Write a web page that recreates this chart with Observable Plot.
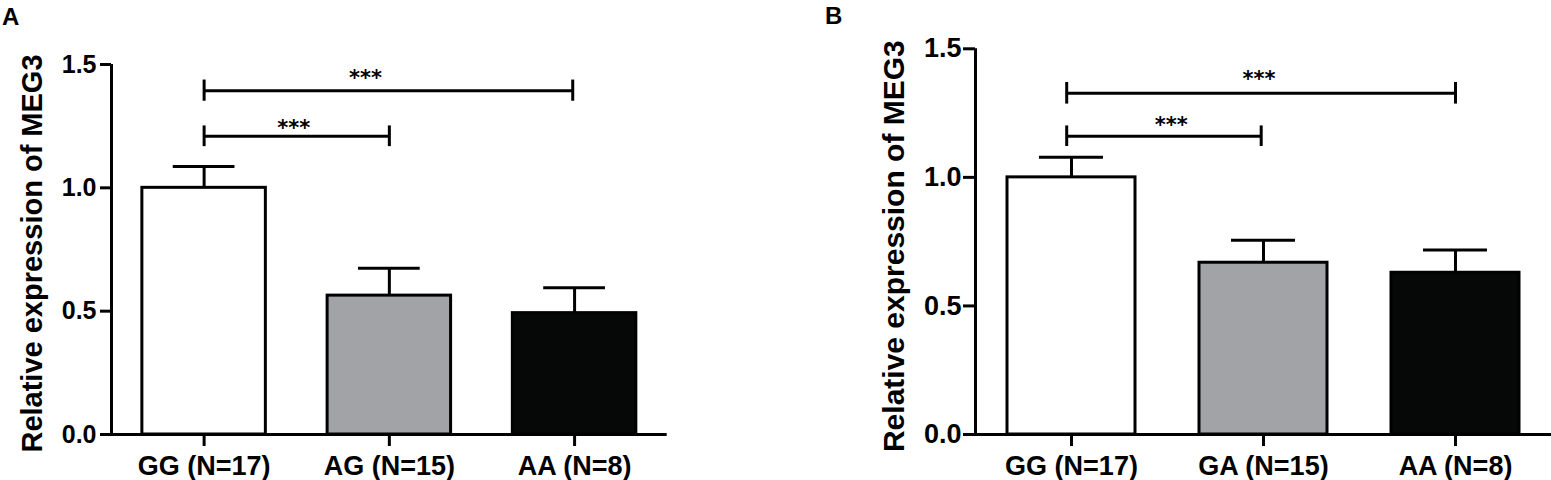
<!DOCTYPE html>
<html>
<head>
<meta charset="utf-8">
<script src="https://cdn.jsdelivr.net/npm/d3@7"></script>
<script src="https://cdn.jsdelivr.net/npm/@observablehq/plot@0.6"></script>
<style>
  html, body { margin: 0; padding: 0; background: #fff; }
  #wrap { position: relative; width: 1551px; height: 480px; overflow: hidden; }
  .panel { position: absolute; top: 0; }
  .tag { position: absolute; font-family: "Liberation Sans", Arial, sans-serif; font-weight: bold; font-size: 24px; line-height: 24px; color: #000; }
</style>
</head>
<body>
<div id="wrap">
  <div class="tag" style="left:2px; top:5px;">A</div>
  <div class="tag" style="left:825px; top:4px;">B</div>
  <div id="panelA" class="panel" style="left:0px;"></div>
  <div id="panelB" class="panel" style="left:800px;"></div>
</div>
<script>
// ---------- data ----------
const yLabel = "Relative expression of MEG3";
const yTicks = [0, 0.5, 1.0, 1.5];
const fills = ["#ffffff", "#a2a3a7", "#060808"];

const categoriesA = ["GG (N=17)", "AG (N=15)", "AA (N=8)"];
const meansA = [1.0, 0.563, 0.492];
const semA = [0.086, 0.111, 0.103];
const sigLabelsA = ["***", "***"];
const sigFromA = [0, 0];
const sigToA = [1.0, 1.99];
const sigLevelA = [1.209, 1.394];
const sigTickA = [0.042, 0.043];
const sigTextXA = [0.484, 0.871];
const sigTextYA = [1.261, 1.465];

const categoriesB = ["GG (N=17)", "GA (N=15)", "AA (N=8)"];
const meansB = [1.0, 0.668, 0.629];
const semB = [0.078, 0.087, 0.089];
const sigLabelsB = ["***", "***"];
const sigFromB = [-0.025, -0.025];
const sigToB = [0.988, 2.0];
const sigLevelB = [1.160, 1.327];
const sigTickB = [0.040, 0.042];
const sigTextXB = [0.519, 0.977];
const sigTextYB = [1.221, 1.400];

function panel(cfg) {
  const bars = cfg.categories.map((c, i) => ({
    i, label: c, mean: cfg.means[i], top: cfg.means[i] + cfg.sem[i], fill: fills[i]
  }));
  const sig = cfg.sigLabels.map((s, k) => ({
    text: s, x1: cfg.sigFrom[k], x2: cfg.sigTo[k], y: cfg.sigLevel[k],
    h: cfg.sigTick[k], tx: cfg.sigTextX[k], ty: cfg.sigTextY[k]
  }));
  const ends = sig.flatMap(d => [{x: d.x1, y1: d.y - d.h, y2: d.y + d.h}, {x: d.x2, y1: d.y - d.h, y2: d.y + d.h}]);
  const half = 1 / 3, cap = 1 / 6;
  return Plot.plot({
    width: cfg.width, height: 480,
    marginLeft: cfg.marginLeft, marginRight: cfg.marginRight,
    marginTop: cfg.marginTop, marginBottom: 46,
    style: {fontFamily: "'Liberation Sans', Arial, sans-serif", fontWeight: "bold", color: "#000", background: "transparent", overflow: "visible"},
    x: {domain: [-0.5, 2.5]},
    y: {domain: [0, 1.5]},
    marks: [
      // error bars (upper only)
      Plot.ruleX(bars, {x: "i", y1: "mean", y2: "top", stroke: "#000", strokeWidth: 3}),
      Plot.ruleY(bars, {y: "top", x1: d => d.i - cap, x2: d => d.i + cap, stroke: "#000", strokeWidth: 3}),
      // bars
      Plot.rectY(bars, {x1: d => d.i - half, x2: d => d.i + half, y1: 0, y2: "mean", fill: "fill", stroke: "#000", strokeWidth: 3}),
      // significance brackets
      Plot.ruleY(sig, {y: "y", x1: "x1", x2: "x2", stroke: "#000", strokeWidth: 3}),
      Plot.ruleX(ends, {x: "x", y1: "y1", y2: "y2", stroke: "#000", strokeWidth: 3}),
      Plot.text(sig, {x: "tx", y: "ty", text: "text", dy: 5, fontSize: 21, fontFamily: "'DejaVu Sans', sans-serif", fontWeight: "bold", fill: "#000"}),
      // axis lines
      Plot.ruleX([-0.5], {y1: 0, y2: 1.5, stroke: "#000", strokeWidth: 3}),
      Plot.ruleY([0], {x1: -0.5, x2: 2.5, stroke: "#000", strokeWidth: 3}),
      // axes
      Plot.axisY(yTicks, {tickFormat: d3.format(".1f"), tickSize: cfg.yTickSize, tickPadding: cfg.yTickPad, strokeWidth: 3, fontSize: cfg.yFont, fontWeight: "bold", fill: "#000", label: null}),
      Plot.axisX([0, 1, 2], {tickFormat: i => cfg.categories[i], tickSize: 12, tickPadding: 9, strokeWidth: 3, fontSize: 27, fontWeight: "bold", fill: "#000", label: null}),
      // y label
      Plot.text([yLabel], {frameAnchor: "left", textAnchor: "middle", lineAnchor: "middle", rotate: -90, dx: cfg.labelDx, dy: cfg.labelDy, fontSize: cfg.labelFont, fontWeight: "bold", fill: "#000", text: d => d})
    ]
  });
}

document.getElementById("panelA").appendChild(panel({
  categories: categoriesA, means: meansA, sem: semA,
  sigLabels: sigLabelsA, sigFrom: sigFromA, sigTo: sigToA, sigLevel: sigLevelA,
  sigTick: sigTickA, sigTextX: sigTextXA, sigTextY: sigTextYA,
  width: 700, marginLeft: 111, marginRight: 33.3, marginTop: 64,
  yTickSize: 11, yTickPad: 4, yFont: 25, labelDx: -78.6, labelDy: 4, labelFont: 29
}));

document.getElementById("panelB").appendChild(panel({
  categories: categoriesB, means: meansB, sem: semB,
  sigLabels: sigLabelsB, sigFrom: sigFromB, sigTo: sigToB, sigLevel: sigLevelB,
  sigTick: sigTickB, sigTextX: sigTextXB, sigTextY: sigTextYB,
  width: 751, marginLeft: 175, marginRight: 0, marginTop: 48.3,
  yTickSize: 12, yTickPad: 2, yFont: 27, labelDx: -81.3, labelDy: 4.5, labelFont: 30
}));
</script>
</body>
</html>
